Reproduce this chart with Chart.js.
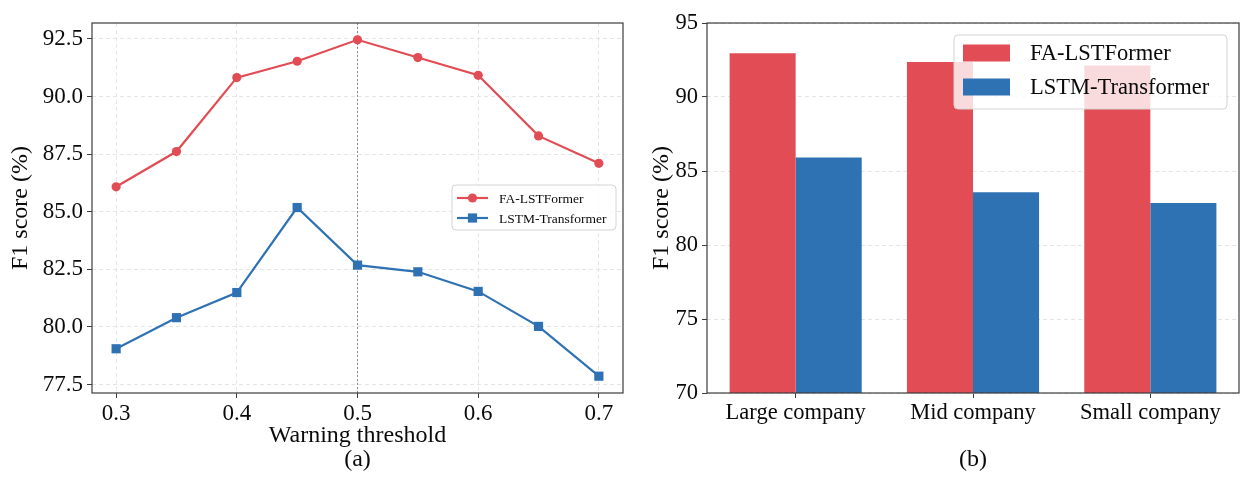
<!DOCTYPE html>
<html><head><meta charset="utf-8">
<script src="https://cdn.jsdelivr.net/npm/chart.js@4/dist/chart.umd.min.js"></script>
<style>
html,body{margin:0;padding:0;background:#fff;}
#wrap{position:relative;width:1252px;height:486px;overflow:hidden;}
#c1{position:absolute;left:0;top:0;}
#c2{position:absolute;left:640px;top:0;}
</style></head><body>
<div id="wrap"><canvas id="c1" width="640" height="486"></canvas><canvas id="c2" width="612" height="486"></canvas></div>
<script>
// ---- data ----
const thresholds = [0.3, 0.35, 0.4, 0.45, 0.5, 0.55, 0.6, 0.65, 0.7];
const faLine = [86.08, 87.61, 90.82, 91.53, 92.46, 91.69, 90.92, 88.29, 87.10];
const lstmLine = [79.05, 80.40, 81.49, 85.18, 82.68, 82.39, 81.54, 80.02, 77.86];
const xTicksA = [0.3, 0.4, 0.5, 0.6, 0.7];
const yTicksA = [77.5, 80.0, 82.5, 85.0, 87.5, 90.0, 92.5];
const companies = ['Large company', 'Mid company', 'Small company'];
const faBars = [92.95, 92.36, 92.12];
const lstmBars = [85.92, 83.56, 82.84];
const yTicksB = [70, 75, 80, 85, 90, 95];
const seriesNames = ['FA-LSTFormer', 'LSTM-Transformer'];
const markThreshold = 0.5;

// ---- style ----
const FONT = "'Liberation Serif', 'Times New Roman', serif";
const RED = '#E24D55';
const BLUE = '#2F72B4';
const GRID = '#e2e2e2';
const TXT = '#0a0a0a';
Chart.defaults.font.family = FONT;
Chart.defaults.color = TXT;

const framePlugin = {
  id: 'frame',
  afterDraw(chart) {
    const {ctx, chartArea: ca} = chart;
    ctx.save();
    ctx.strokeStyle = '#3c3c3c';
    ctx.lineWidth = 1.2;
    ctx.strokeRect(ca.left, ca.top, ca.right - ca.left, ca.bottom - ca.top);
    ctx.restore();
  }
};

const vlinePlugin = {
  id: 'vline',
  beforeDatasetsDraw(chart, args, o) {
    if (o.value === undefined) return;
    const {ctx, chartArea: ca} = chart;
    const x = chart.scales.x.getPixelForValue(o.value);
    ctx.save();
    ctx.strokeStyle = '#8a8a8a';
    ctx.lineWidth = 1;
    ctx.setLineDash([2, 2]);
    ctx.beginPath();
    ctx.moveTo(x, ca.top);
    ctx.lineTo(x, ca.bottom);
    ctx.stroke();
    ctx.restore();
  }
};

const boxLegend = {
  id: 'boxLegend',
  afterDraw(chart, args, o) {
    if (!o.width) return;
    const {ctx, chartArea: ca} = chart;
    const x0 = ca.right - o.right - o.width, y0 = ca.top + o.top;
    ctx.save();
    ctx.beginPath();
    ctx.roundRect(x0, y0, o.width, o.height, 4);
    ctx.fillStyle = 'rgba(255,255,255,0.8)';
    ctx.fill();
    ctx.strokeStyle = '#d4d4d4';
    ctx.lineWidth = 1;
    ctx.stroke();
    chart.data.datasets.forEach((ds, i) => {
      const cy = y0 + o.padTop + i * o.gap;
      if (o.kind === 'line') {
        ctx.strokeStyle = ds.borderColor;
        ctx.lineWidth = ds.borderWidth;
        ctx.beginPath();
        ctx.moveTo(x0 + o.hx, cy);
        ctx.lineTo(x0 + o.hx + o.hw, cy);
        ctx.stroke();
        ctx.fillStyle = ds.backgroundColor;
        Chart.helpers.drawPoint(ctx, {pointStyle: ds.pointStyle, radius: ds.pointRadius, rotation: 0, borderWidth: 0}, x0 + o.hx + o.hw / 2, cy);
      } else {
        ctx.fillStyle = ds.backgroundColor;
        ctx.fillRect(x0 + o.hx, cy - o.ph / 2, o.hw, o.ph);
      }
      ctx.fillStyle = TXT;
      ctx.font = o.fontSize + 'px ' + FONT;
      ctx.textBaseline = 'middle';
      ctx.textAlign = 'left';
      ctx.fillText(ds.label, x0 + o.tx, cy + 1);
    });
    ctx.restore();
  }
};

const tickFontA = {family: FONT, size: 23};
const tickFontB = {family: FONT, size: 22.5};
const titleFont = {family: FONT, size: 24, lineHeight: 1.0};

// ---- chart (a) ----
new Chart(document.getElementById('c1'), {
  type: 'line',
  data: {
    datasets: [
      {label: seriesNames[0], data: thresholds.map((x, i) => ({x: x, y: faLine[i]})),
       borderColor: RED, backgroundColor: RED, borderWidth: 2.2,
       pointStyle: 'circle', pointRadius: 4.6, pointBorderWidth: 0, pointHoverRadius: 4.6},
      {label: seriesNames[1], data: thresholds.map((x, i) => ({x: x, y: lstmLine[i]})),
       borderColor: BLUE, backgroundColor: BLUE, borderWidth: 2.2,
       pointStyle: 'rect', pointRadius: 6.5, pointBorderWidth: 0, pointHoverRadius: 6.5}
    ]
  },
  options: {
    responsive: false, animation: false, devicePixelRatio: 1,
    layout: {padding: {left: 5, right: 17, top: 23, bottom: 0}},
    plugins: {
      legend: {display: false}, tooltip: {enabled: false},
      vline: {value: markThreshold},
      boxLegend: {kind: 'line', width: 164, height: 45, right: 7, top: 162,
                  hx: 5, hw: 31, tx: 47, padTop: 13, gap: 20, fontSize: 13.5}
    },
    scales: {
      x: {
        type: 'linear', min: 0.28, max: 0.72,
        afterBuildTicks: s => { s.ticks = xTicksA.map(v => ({value: v})); },
        afterFit: s => { s.height = 93; },
        ticks: {font: tickFontA, color: TXT, padding: 2, maxRotation: 0, autoSkip: false,
                callback: v => Number(v).toFixed(1)},
        grid: {color: GRID, lineWidth: 0.9, tickLength: 5, tickColor: '#3c3c3c', tickWidth: 1},
        border: {display: false, dash: [4, 3]},
        title: {display: true, text: ['Warning threshold', '(a)'], font: titleFont, color: TXT,
                padding: {top: 0, bottom: 14}}
      },
      y: {
        type: 'linear', min: 77.13, max: 93.19,
        afterBuildTicks: s => { s.ticks = yTicksA.map(v => ({value: v})); },
        afterFit: s => { s.width = 87; },
        ticks: {font: tickFontA, color: TXT, padding: 4, callback: v => Number(v).toFixed(1)},
        grid: {color: GRID, lineWidth: 0.9, tickLength: 5, tickColor: '#3c3c3c', tickWidth: 1},
        border: {display: false, dash: [4, 3]},
        title: {display: true, text: 'F1 score (%)', font: titleFont, color: TXT,
                padding: {top: 4, bottom: 4}}
      }
    }
  },
  plugins: [vlinePlugin, framePlugin, boxLegend]
});

// ---- chart (b) ----
new Chart(document.getElementById('c2'), {
  type: 'bar',
  data: {
    labels: companies,
    datasets: [
      {label: seriesNames[0], data: faBars, backgroundColor: RED, borderWidth: 0,
       categoryPercentage: 0.745, barPercentage: 1.0},
      {label: seriesNames[1], data: lstmBars, backgroundColor: BLUE, borderWidth: 0,
       categoryPercentage: 0.745, barPercentage: 1.0}
    ]
  },
  options: {
    responsive: false, animation: false, devicePixelRatio: 1,
    layout: {padding: {left: 6, right: 13, top: 23, bottom: 0}},
    plugins: {
      legend: {display: false}, tooltip: {enabled: false},
      boxLegend: {kind: 'patch', width: 273, height: 74, right: 12, top: 12,
                  hx: 9, hw: 47, ph: 17, tx: 76, padTop: 18, gap: 34, fontSize: 22.5}
    },
    scales: {
      x: {
        afterFit: s => { s.height = 93; },
        ticks: {font: tickFontB, color: TXT, padding: 2, maxRotation: 0, autoSkip: false},
        grid: {display: true, drawOnChartArea: false, offset: false, tickLength: 5,
               tickColor: '#3c3c3c', tickWidth: 1},
        border: {display: false},
        title: {display: true, text: '(b)', font: titleFont, color: TXT, padding: {top: 0, bottom: 14}}
      },
      y: {
        min: 70, max: 95,
        afterBuildTicks: s => { s.ticks = yTicksB.map(v => ({value: v})); },
        afterFit: s => { s.width = 61; },
        ticks: {font: tickFontB, color: TXT, padding: 4, callback: v => String(v)},
        grid: {color: GRID, lineWidth: 0.9, tickLength: 5, tickColor: '#3c3c3c', tickWidth: 1},
        border: {display: false, dash: [4, 3]},
        title: {display: true, text: 'F1 score (%)', font: titleFont, color: TXT,
                padding: {top: 4, bottom: 4}}
      }
    }
  },
  plugins: [framePlugin, boxLegend]
});
</script>
</body></html>
